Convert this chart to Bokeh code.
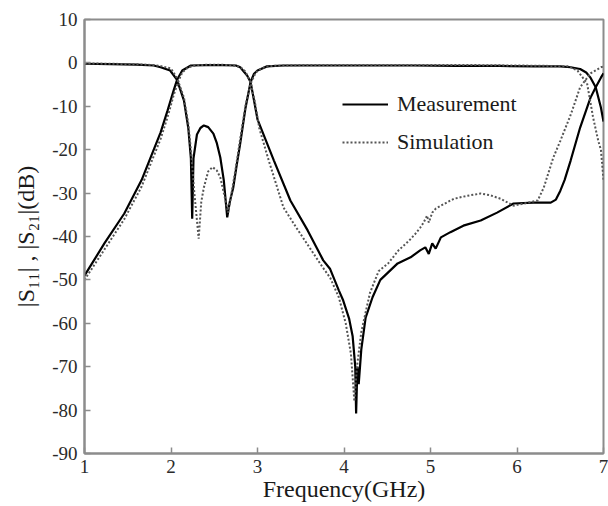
from bokeh.plotting import figure
from bokeh.models import Legend, LegendItem
from bokeh.embed import file_html
from bokeh.resources import INLINE

# ---- data ----
meas_s11_f = [1.0, 1.3, 1.6, 1.8, 1.88, 1.99, 2.07, 2.15, 2.2, 2.23, 2.245, 2.26, 2.3, 2.34, 2.38,
              2.43, 2.49, 2.53, 2.57, 2.61, 2.65, 2.68, 2.72, 2.76, 2.8, 2.86, 2.92, 2.96, 3.0,
              3.11, 3.3, 3.8, 4.3, 4.8, 5.3, 5.8, 6.2, 6.5, 6.62, 6.73, 6.8, 6.85, 6.91, 6.97, 7.0]
meas_s11_db = [-0.2, -0.3, -0.4, -0.6, -1.0, -1.75, -3.9, -8.7, -15, -22, -35.9, -22, -16.5, -15, -14.4,
               -14.8, -16.3, -18.5, -21.8, -27, -35.6, -32, -28.7, -23.5, -18.6, -10.5, -4.4, -2.5, -1.75,
               -0.8, -0.6, -0.6, -0.6, -0.6, -0.7, -0.7, -0.8, -0.8, -1.0, -1.4, -2.2, -3.4, -5.6, -10.3, -13.5]

meas_s21_f = [1.0, 1.23, 1.46, 1.66, 1.88, 1.96, 2.03, 2.07, 2.13, 2.23, 2.4, 2.6, 2.75, 2.8, 2.88,
              2.92, 2.96, 3.0, 3.19, 3.38, 3.58, 3.76, 3.84, 3.94, 3.99, 4.06, 4.1, 4.13, 4.14,
              4.155, 4.17, 4.2, 4.25, 4.33, 4.42, 4.62, 4.77, 4.88, 4.94, 4.98, 5.02, 5.06, 5.12,
              5.23, 5.38, 5.58, 5.77, 5.96, 6.19, 6.39, 6.45, 6.5, 6.55, 6.62, 6.73, 6.85, 6.91,
              6.97, 7.0]
meas_s21_db = [-49, -41.6, -34.7, -27, -16, -11, -6.4, -3.9, -1.75, -0.6, -0.5, -0.5, -0.6, -1.0, -2.9,
               -4.4, -8.7, -13, -22.5, -31.7, -38.6, -45.5, -47.5, -52.4, -54.7, -59, -63, -70, -80.8,
               -70, -74, -66, -58.7, -54, -50, -46.2, -44.8, -43.2, -42.5, -44, -41.6, -42.8, -40.2,
               -39, -37.5, -36.3, -34.5, -32.4, -32.2, -32.2, -31.5, -29.5, -27, -22.5, -14.9, -8, -5.6,
               -3.4, -2.4]

sim_s11_f = [1.0, 1.3, 1.6, 1.8, 1.9, 2.0, 2.07, 2.15, 2.2, 2.23, 2.27, 2.32, 2.35, 2.38, 2.43, 2.48,
             2.53, 2.57, 2.63, 2.66, 2.7, 2.75, 2.8, 2.86, 2.92, 2.98, 3.05, 3.15, 3.5, 4.0, 4.5, 5.0,
             5.5, 6.0, 6.4, 6.6, 6.7, 6.81, 6.88, 6.94, 6.97, 7.0]
sim_s11_db = [-0.1, -0.2, -0.3, -0.5, -0.8, -1.3, -3.5, -8, -14, -20, -30, -40.5, -32, -28.7, -25, -24,
              -24.8, -26.4, -31.7, -34.5, -30, -24, -17.5, -10, -4.8, -2.2, -1.2, -0.7, -0.5, -0.5, -0.5, -0.5,
              -0.5, -0.6, -0.7, -0.8, -1.8, -4.7, -12.6, -18, -20, -27]

sim_s21_f = [1.0, 1.23, 1.46, 1.66, 1.88, 1.96, 2.03, 2.08, 2.13, 2.2, 2.3, 2.5, 2.7, 2.8, 2.86,
             2.92, 2.97, 3.02, 3.13, 3.3, 3.45, 3.6, 3.75, 3.84, 3.94, 4.02, 4.08, 4.12, 4.15, 4.2,
             4.3, 4.4, 4.51, 4.63, 4.75, 4.82, 4.88, 4.92, 4.96, 4.98, 5.02, 5.06, 5.12, 5.27, 5.43,
             5.58, 5.69, 5.81, 5.96, 6.08, 6.24, 6.31, 6.42, 6.5, 6.62, 6.73, 6.85, 6.97, 7.0]
sim_s21_db = [-50, -43, -36, -28.5, -17.5, -12.5, -7.5, -4.5, -2.2, -1.0, -0.5, -0.4, -0.5, -0.9, -2.0,
              -4.5, -9, -15, -22.5, -33.3, -38, -42.5, -47, -49.5, -54, -60, -67, -78, -70, -62,
              -53, -48, -46.2, -43.2, -41, -39.5, -38, -36.8, -35.2, -36.8, -34.5, -33.6, -32.9, -31.3, -30.6,
              -30.1, -30.5, -31.3, -32.9, -32.4, -31.7, -28.7, -21.8, -18, -12, -5.6, -2.4, -1.0, -0.8]

x_ticks = [1, 2, 3, 4, 5, 6, 7]
y_ticks = [-90, -80, -70, -60, -50, -40, -30, -20, -10, 0, 10]

FONT = "Liberation Serif"
AXC = "#8c8c8c"

p = figure(width=608, height=506, x_range=(1, 7), y_range=(-90, 10),
           output_backend="svg", toolbar_location=None,
           min_border_left=84, min_border_right=5, min_border_top=19, min_border_bottom=53)
p.xgrid.visible = False
p.ygrid.visible = False
p.outline_line_color = AXC
p.outline_line_width = 2
p.background_fill_color = "white"
p.border_fill_color = "white"

for ax in (p.xaxis[0], p.yaxis[0]):
    ax.axis_line_color = AXC
    ax.axis_line_width = 2
    ax.major_tick_line_color = AXC
    ax.major_tick_line_width = 1.5
    ax.major_tick_in = 6
    ax.major_tick_out = 0
    ax.minor_tick_line_color = None
    ax.major_label_text_font = FONT
    ax.major_label_text_font_size = "19px"
    ax.major_label_text_color = "#2a2a2a"
    ax.axis_label_text_font = FONT
    ax.axis_label_text_font_size = "24px"
    ax.axis_label_text_font_style = "normal"
    ax.axis_label_text_color = "#1a1a1a"

p.xaxis.ticker = x_ticks
p.yaxis.ticker = y_ticks
p.yaxis.major_label_overrides = {v: str(v) for v in y_ticks}
p.xaxis.major_label_overrides = {v: str(v) for v in x_ticks}
p.xaxis.major_label_standoff = 6
p.yaxis.major_label_standoff = 7
p.xaxis.axis_label = "Frequency(GHz)"
p.yaxis.axis_label = "|S\u2081\u2081| , |S\u2082\u2081|(dB)"
p.xaxis.axis_label_standoff = 0
p.yaxis.axis_label_standoff = 10

r1 = p.line(meas_s11_f, meas_s11_db, line_color="black", line_width=2.2)
r2 = p.line(meas_s21_f, meas_s21_db, line_color="black", line_width=2.2)
r3 = p.line(sim_s11_f, sim_s11_db, line_color="#555555", line_width=2, line_dash="2 2")
r4 = p.line(sim_s21_f, sim_s21_db, line_color="#555555", line_width=2, line_dash="2 2")

legend = Legend(items=[LegendItem(label="Measurement", renderers=[r1]),
                       LegendItem(label="Simulation", renderers=[r3])],
                location=(258, 298), orientation="vertical",
                glyph_width=46, glyph_height=24, label_height=24, label_standoff=9,
                spacing=12, padding=0, margin=0,
                label_text_font=FONT, label_text_font_size="22px", label_text_color="#1a1a1a",
                border_line_alpha=0, background_fill_alpha=0)
p.add_layout(legend)

open("out.html", "w").write(file_html(p, INLINE))
